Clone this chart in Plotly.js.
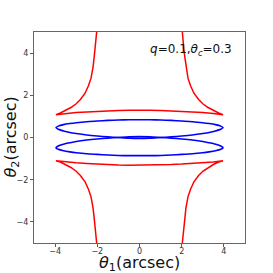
<!DOCTYPE html>
<html><head><meta charset="utf-8">
<script src="https://cdn.plot.ly/plotly-3.0.1.min.js"></script>
<style>html,body{margin:0;padding:0;background:#fff;}#chart{width:273px;height:273px;}</style>
</head><body><div id="chart"></div>
<script>
// Critical curve (upper branch)
const critUpX = [-2.03,-2.06,-2.1,-2.15,-2.2,-2.3,-2.42,-2.58,-2.8,-3.0,-3.25,-3.5,-3.75,-3.96,-3.5,-3.0,-2.5,-2.0,-1.5,-1.0,-0.5,0,0.5,1.0,1.5,2.0,2.5,3.0,3.5,3.96,3.75,3.5,3.25,3.0,2.8,2.58,2.42,2.3,2.2,2.15,2.1,2.06,2.03];
const critUpY = [5.0,4.6,4.2,3.8,3.35,2.8,2.45,2.1,1.8,1.6,1.42,1.28,1.16,1.08,1.14,1.18,1.21,1.24,1.26,1.28,1.29,1.3,1.29,1.28,1.26,1.24,1.21,1.18,1.14,1.08,1.16,1.28,1.42,1.6,1.8,2.1,2.45,2.8,3.35,3.8,4.2,4.6,5.0];
// Critical curve (lower branch)
const critLowX = [-2.03,-2.06,-2.1,-2.15,-2.2,-2.3,-2.42,-2.58,-2.8,-3.0,-3.25,-3.5,-3.75,-3.96,-3.5,-3.0,-2.5,-2.0,-1.5,-1.0,-0.5,0,0.5,1.0,1.5,2.0,2.5,3.0,3.5,3.96,3.75,3.5,3.25,3.0,2.8,2.58,2.42,2.3,2.2,2.15,2.1,2.06,2.03];
const critLowY = [-5.0,-4.6,-4.2,-3.8,-3.35,-2.8,-2.45,-2.1,-1.8,-1.6,-1.42,-1.28,-1.16,-1.1,-1.16,-1.2,-1.23,-1.26,-1.28,-1.3,-1.31,-1.31,-1.31,-1.3,-1.28,-1.26,-1.23,-1.2,-1.16,-1.1,-1.16,-1.28,-1.42,-1.6,-1.8,-2.1,-2.45,-2.8,-3.35,-3.8,-4.2,-4.6,-5.0];
// Caustic (upper loop)
const causUpX = [-3.96,-3.85,-3.6,-3.3,-3.0,-2.5,-2.0,-1.5,-1.0,-0.5,0,0.5,1.0,1.5,2.0,2.5,3.0,3.3,3.6,3.85,3.96,3.85,3.6,3.3,3.0,2.5,2.0,1.5,1.0,0.5,0,-0.5,-1.0,-1.5,-2.0,-2.5,-3.0,-3.3,-3.6,-3.85,-3.96];
const causUpY = [0.47,0.54,0.61,0.66,0.70,0.75,0.78,0.81,0.83,0.84,0.84,0.84,0.83,0.81,0.78,0.75,0.70,0.66,0.61,0.54,0.47,0.39,0.31,0.24,0.19,0.12,0.07,0.03,0.0,-0.03,-0.04,-0.03,0.0,0.03,0.07,0.12,0.19,0.24,0.31,0.39,0.47];
// Caustic (lower loop)
const causLowX = [-3.96,-3.85,-3.6,-3.3,-3.0,-2.5,-2.0,-1.5,-1.0,-0.5,0,0.5,1.0,1.5,2.0,2.5,3.0,3.3,3.6,3.85,3.96,3.85,3.6,3.3,3.0,2.5,2.0,1.5,1.0,0.5,0,-0.5,-1.0,-1.5,-2.0,-2.5,-3.0,-3.3,-3.6,-3.85,-3.96];
const causLowY = [-0.48,-0.56,-0.63,-0.68,-0.72,-0.77,-0.80,-0.83,-0.85,-0.86,-0.86,-0.86,-0.85,-0.83,-0.80,-0.77,-0.72,-0.68,-0.63,-0.56,-0.48,-0.40,-0.32,-0.25,-0.19,-0.12,-0.07,-0.03,0.0,0.03,0.04,0.03,0.0,-0.03,-0.07,-0.12,-0.19,-0.25,-0.32,-0.40,-0.48];
const tickVals = [-4,-2,0,2,4];
const annText = '<i>q</i>=0.1,<i>θ</i><sub><i>c</i></sub>=0.3';
const xTitle = '<i>θ</i><sub>1</sub>(arcsec)';
const yTitle = '<i>θ</i><sub>2</sub>(arcsec)';

const red = '#ff0000', blue = '#0000ff';
const traces = [
  {x: critUpX, y: critUpY, mode:'lines', line:{color:red, width:1.5}},
  {x: critLowX, y: critLowY, mode:'lines', line:{color:red, width:1.5}},
  {x: causUpX, y: causUpY, mode:'lines', line:{color:blue, width:1.6, shape:'spline', smoothing:0.8}},
  {x: causLowX, y: causLowY, mode:'lines', line:{color:blue, width:1.6, shape:'spline', smoothing:0.8}}
];
const axisCommon = {
  range:[-5,5], tickvals:tickVals, ticks:'outside', ticklen:3, tickwidth:0.8, tickcolor:'#333',
  showline:true, mirror:true, linecolor:'#666', linewidth:1, showgrid:false, zeroline:false,
  tickfont:{family:'DejaVu Sans', size:8, color:'#333'}
};
const titleFont = {family:'DejaVu Sans', size:16, color:'#111'};
const layout = {
  width:273, height:273, margin:{l:34, r:28, t:32, b:30},
  paper_bgcolor:'#fff', plot_bgcolor:'#fff', showlegend:false,
  font:{family:'DejaVu Sans'},
  xaxis: Object.assign({}, axisCommon, {ticklabelstandoff:-3}),
  yaxis: Object.assign({}, axisCommon),
  annotations:[
    {x:2.45, y:4.15, xref:'x', yref:'y', text:annText, showarrow:false, borderpad:0, font:{family:'DejaVu Sans', size:12, color:'#111'}},
    {x:0.5, y:0, xref:'paper', yref:'paper', xanchor:'center', yanchor:'middle', yshift:-20, borderpad:0, text:xTitle, showarrow:false, font:titleFont},
    {x:0, y:0.5, xref:'paper', yref:'paper', xanchor:'center', yanchor:'middle', xshift:-23, textangle:-90, borderpad:0, text:yTitle, showarrow:false, font:titleFont}
  ]
};
Plotly.newPlot('chart', traces, layout, {staticPlot:true, displayModeBar:false});
</script></body></html>
